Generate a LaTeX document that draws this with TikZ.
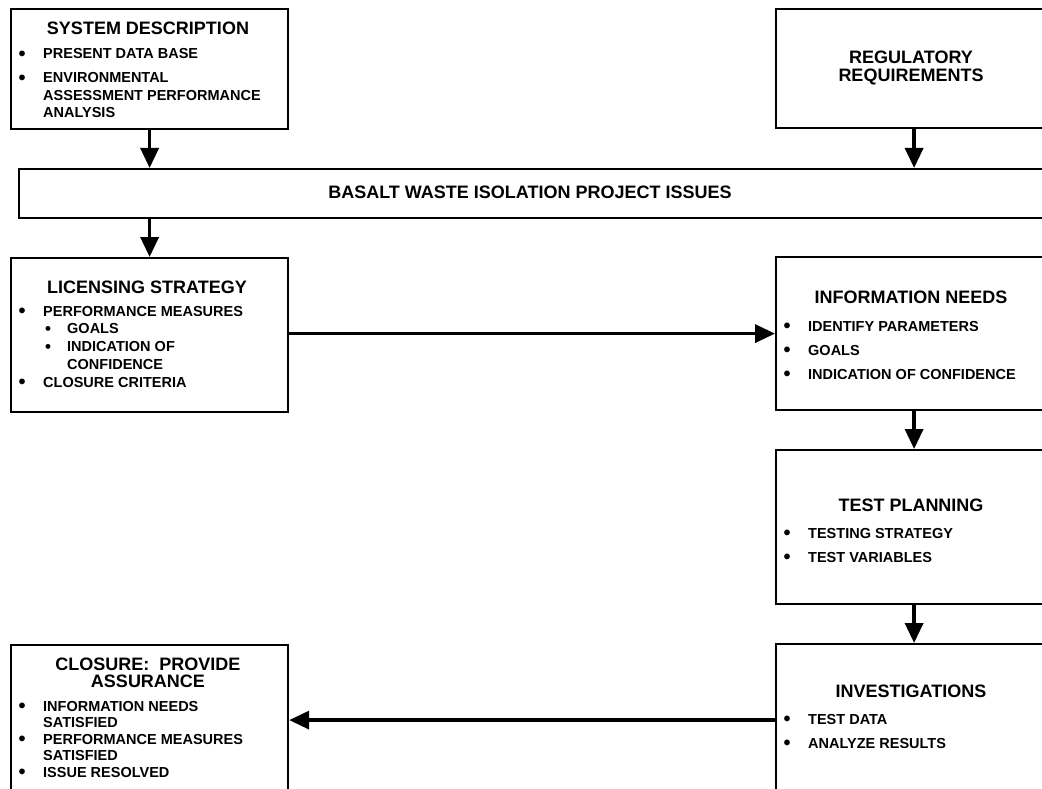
\documentclass[tikz,border=0pt]{standalone}
\usepackage{fontspec}
\setmainfont{Liberation Sans}
\usetikzlibrary{arrows.meta}

\tikzset{
  box/.style={draw, line width=2.2pt, anchor=north west, inner sep=0pt},
  head/.style={font=\bfseries\fontsize{18}{16.5}\selectfont, anchor=base, inner sep=0pt},
  list/.style={font=\bfseries\fontsize{14.5}{17.5}\selectfont, anchor=base west, inner sep=0pt},
  flow/.style={line width=3.5pt, -{Triangle[length=20pt,width=18pt]}},
}
\newcommand{\bigdot}{\raisebox{-1.2pt}[0pt][0pt]{\fontsize{20}{20}\selectfont\textbullet}}
\newcommand{\smalldot}{\raisebox{-0.6pt}[0pt][0pt]{\fontsize{17}{17}\selectfont\textbullet}}
\newcommand{\bul}{\makebox[23.5pt][l]{\hspace*{-1pt}\bigdot}}
\newcommand{\subbul}{\hspace*{2pt}\makebox[22pt][l]{\smalldot}}

\begin{document}
\begin{tikzpicture}[x=1pt, y=-1pt]
  \useasboundingbox (0,0) rectangle (1042,789);
  \clip (0,0) rectangle (1042,789);

  % top row
  \node[box, minimum width=277pt, minimum height=120pt] (sys) at (10,8) {};
  \node[head] (systitle) at (148,35) {SYSTEM DESCRIPTION};
  \node[list] (sysitems) at (19.5,59) {\begin{tabular}[t]{@{}l@{}}
      \bul PRESENT DATA BASE\\[6.5pt]
      \bul ENVIRONMENTAL\\
      \hspace*{23.5pt}ASSESSMENT PERFORMANCE\\
      \hspace*{23.5pt}ANALYSIS
    \end{tabular}};

  \node[box, minimum width=276pt, minimum height=119pt] (reg) at (775,8) {};
  \node[head] (regtitle) at (911,64) {\begin{tabular}[t]{@{}c@{}}
      REGULATORY\\ REQUIREMENTS
    \end{tabular}};

  % issues bar
  \node[box, minimum width=1040pt, minimum height=49pt] (issues) at (18,168) {};
  \node[head] (issuestext) at (530,198) {BASALT WASTE ISOLATION PROJECT ISSUES};

  % licensing and information needs
  \node[box, minimum width=277pt, minimum height=154pt] (lic) at (10,257) {};
  \node[head] (lictitle) at (147,293) {LICENSING STRATEGY};
  \node[list, font=\bfseries\fontsize{14.5}{17.75}\selectfont] (licitems) at (19.5,316) {\begin{tabular}[t]{@{}l@{}}
      \bul PERFORMANCE MEASURES\\
      \hspace*{23.5pt}\subbul GOALS\\
      \hspace*{23.5pt}\subbul INDICATION OF\\
      \hspace*{47.5pt}CONFIDENCE\\
      \bul CLOSURE CRITERIA
    \end{tabular}};

  \node[box, minimum width=276pt, minimum height=153pt] (info) at (775,256) {};
  \node[head] (infotitle) at (911,303) {INFORMATION NEEDS};
  \node[list] (infoitems) at (784.5,331) {\begin{tabular}[t]{@{}l@{}}
      \bul IDENTIFY PARAMETERS\\[6.5pt]
      \bul GOALS\\[6.5pt]
      \bul INDICATION OF CONFIDENCE
    \end{tabular}};

  % test planning
  \node[box, minimum width=276pt, minimum height=154pt] (test) at (775,449) {};
  \node[head] (testtitle) at (911,511) {TEST PLANNING};
  \node[list] (testitems) at (784.5,538) {\begin{tabular}[t]{@{}l@{}}
      \bul TESTING STRATEGY\\[6.5pt]
      \bul TEST VARIABLES
    \end{tabular}};

  % bottom row
  \node[box, minimum width=277pt, minimum height=152pt] (clo) at (10,644) {};
  \node[head] (clotitle) at (148,670) {\begin{tabular}[t]{@{}c@{}}
      CLOSURE:\ \ PROVIDE\\ ASSURANCE
    \end{tabular}};
  \node[list, font=\bfseries\fontsize{14.5}{16.5}\selectfont] (cloitems) at (19.5,711) {\begin{tabular}[t]{@{}l@{}}
      \bul INFORMATION NEEDS\\
      \hspace*{23.5pt}SATISFIED\\
      \bul PERFORMANCE MEASURES\\
      \hspace*{23.5pt}SATISFIED\\
      \bul ISSUE RESOLVED
    \end{tabular}};

  \node[box, minimum width=276pt, minimum height=152pt] (inv) at (775,643) {};
  \node[head] (invtitle) at (911,697) {INVESTIGATIONS};
  \node[list] (invitems) at (784.5,724) {\begin{tabular}[t]{@{}l@{}}
      \bul TEST DATA\\[6.5pt]
      \bul ANALYZE RESULTS
    \end{tabular}};

  % connectors
  \draw[flow] (sys.south) -- (sys.south |- issues.north);
  \draw[flow] (reg.south) -- (reg.south |- issues.north);
  \draw[flow] (issues.south -| lic.north) -- (lic.north);
  \draw[flow] (info.west -| lic.east) -- (info.west);
  \draw[flow] (info.south) -- (test.north);
  \draw[flow] (test.south) -- (inv.north);
  \draw[flow] (inv.west) -- (inv.west -| clo.east);
\end{tikzpicture}
\end{document}
